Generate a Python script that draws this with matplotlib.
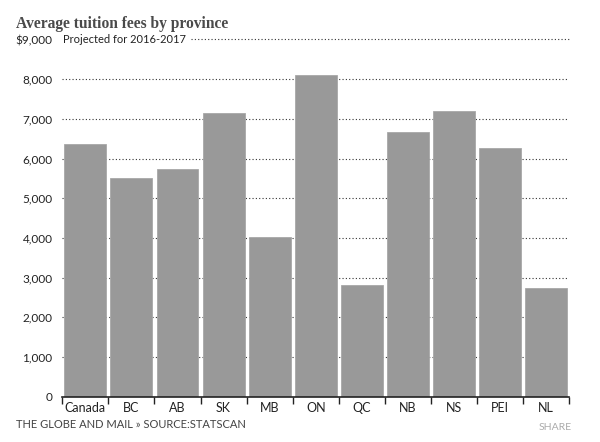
import matplotlib
matplotlib.use("Agg")
import matplotlib.pyplot as plt

categories = ["Canada", "BC", "AB", "SK", "MB", "ON", "QC", "NB", "NS", "PEI", "NL"]
fees = [6360, 5510, 5730, 7150, 4030, 8100, 2820, 6670, 7200, 6270, 2730]
ytick_values = [0, 1000, 2000, 3000, 4000, 5000, 6000, 7000, 8000, 9000]
ytick_labels = ["0", "1,000", "2,000", "3,000", "4,000", "5,000", "6,000", "7,000", "8,000", "$9,000"]
title = "Average tuition fees by province"
subtitle = "Projected for 2016-2017"
footer = "THE GLOBE AND MAIL \u00bb SOURCE:STATSCAN"

sans = ["Lato", "DejaVu Sans"]

fig = plt.figure(figsize=(6.0, 4.42), dpi=100)
W, H = 600, 442
ax = fig.add_axes([62.3 / W, 45.3 / H, (569.3 - 62.3) / W, (396.7 - 39.4) / H])

x = list(range(len(categories)))
ax.bar(x, fees, width=0.91, color="#999999", edgecolor="#a8a8a8", linewidth=0.6, zorder=2)

ax.set_xlim(-0.5, len(categories) - 0.5)
ax.set_ylim(0, 9000)

for v in ytick_values[1:-1]:
    ax.axhline(v, color="#333333", linestyle=(0, (1, 2)), linewidth=0.8, zorder=1)

ax.set_yticks(ytick_values)
ax.set_yticklabels(ytick_labels, family=sans, fontsize=8.5, color="#222222")
ax.tick_params(axis="y", length=0, pad=7)

ax.set_xticks(x)
ax.set_xticklabels(categories, family=sans, fontsize=9, color="#222222")
ax.tick_params(axis="x", length=0, pad=4)
ax.set_xticks([i - 0.5 for i in range(len(categories) + 1)], minor=True)
ax.tick_params(axis="x", which="minor", length=5, width=1, color="#222222", direction="out")

for s in ["top", "right", "left"]:
    ax.spines[s].set_visible(False)
ax.spines["bottom"].set_color("#222222")
ax.spines["bottom"].set_linewidth(1.2)
ax.spines["bottom"].set_zorder(3)

sub = ax.text(0.002, 9000, subtitle, transform=ax.get_yaxis_transform(),
              ha="left", va="center", family=sans, fontsize=8, color="#222222")

fig.text(16 / W, 1 - 16 / H, title, ha="left", va="top",
         family=["Liberation Serif", "DejaVu Serif"], fontweight="bold", fontsize=11.2, color="#4a4a4a")
fig.text(16 / W, 1 - 424 / H, footer, ha="left", va="center", family=sans, fontsize=8, color="#444444")
fig.text(572 / W, 1 - 427 / H, "SHARE", ha="right", va="center", family=sans, fontsize=7.5, color="#aaaaaa")

fig.canvas.draw()
bb = sub.get_window_extent()
ax_bb = ax.get_window_extent()
start = (bb.x1 + 5 - ax_bb.x0) / ax_bb.width
ax.axhline(9000, xmin=start, xmax=1, color="#333333",
           linestyle=(0, (1, 2)), linewidth=0.8, zorder=1, clip_on=False)

fig.savefig("out.png", dpi=100)
